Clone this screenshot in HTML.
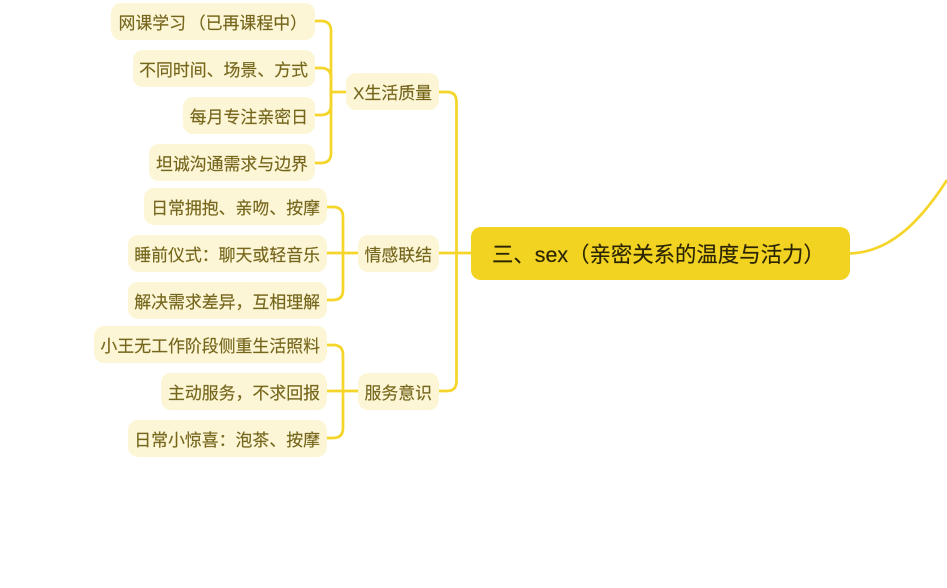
<!DOCTYPE html>
<html><head><meta charset="utf-8">
<style>
html,body{margin:0;padding:0;background:#fff;width:947px;height:588px;overflow:hidden}
#w{position:relative;width:947px;height:588px;overflow:hidden;font-family:"Liberation Sans","Noto Sans CJK SC",sans-serif;filter:blur(.35px)}
svg{position:absolute;left:0;top:0}
.n{position:absolute;height:37px;line-height:41px;background:#fdf6d6;border-radius:10px;color:#75661c;font-size:16.9px;text-align:right;white-space:nowrap;box-sizing:border-box;padding-right:7px;-webkit-text-stroke:.15px #75661c}
.m{position:absolute;left:471px;top:227px;width:379px;height:53px;line-height:57px;background:#f3d321;border-radius:10px;color:#2a2405;font-size:21.4px;padding-left:21px;box-sizing:border-box;white-space:nowrap;-webkit-text-stroke:.15px #2a2405}
</style></head><body><div id="w">
<svg width="947" height="588" fill="none" stroke="#f5d52a" stroke-width="2.7">
<path d="M850 253.500C890 252 920 222 947 180"/>
<path d="M471 253H439"/>
<path d="M439 92H447Q456.500 92 456.500 102V381Q456.500 391 447 391H439"/>
<path d="M346 92H331"/>
<path d="M315 21H321Q331 21 331 31V153Q331 163 321 163H315"/>
<path d="M315 68H321Q331 68 331 78V105Q331 115 321 115H315"/>
<path d="M358 253H327"/>
<path d="M327 207H333Q343 207 343 217V290Q343 300 333 300H327"/>
<path d="M358 391H327"/>
<path d="M327 345H333Q343 345 343 355V428Q343 438 333 438H327"/>
</svg>
<div class="n" style="left:111px;top:3px;width:204px;padding-right:8px;word-spacing:-2px">网课学习 （已再课程中）</div>
<div class="n" style="left:133px;top:50px;width:182px">不同时间、场景、方式</div>
<div class="n" style="left:183px;top:97px;width:132px">每月专注亲密日</div>
<div class="n" style="left:149px;top:144px;width:166px">坦诚沟通需求与边界</div>
<div class="n" style="left:346px;top:73px;width:93px">X生活质量</div>
<div class="n" style="left:144px;top:188px;width:183px">日常拥抱、亲吻、按摩</div>
<div class="n" style="left:128px;top:235px;width:199px">睡前仪式：聊天或轻音乐</div>
<div class="n" style="left:128px;top:282px;width:199px">解决需求差异，互相理解</div>
<div class="n" style="left:358px;top:235px;width:81px">情感联结</div>
<div class="n" style="left:94px;top:326px;width:233px">小王无工作阶段侧重生活照料</div>
<div class="n" style="left:161px;top:373px;width:166px">主动服务，不求回报</div>
<div class="n" style="left:128px;top:420px;width:199px">日常小惊喜：泡茶、按摩</div>
<div class="n" style="left:358px;top:373px;width:81px">服务意识</div>
<div class="m">三、sex（亲密关系的温度与活力）</div>
</div></body></html>
